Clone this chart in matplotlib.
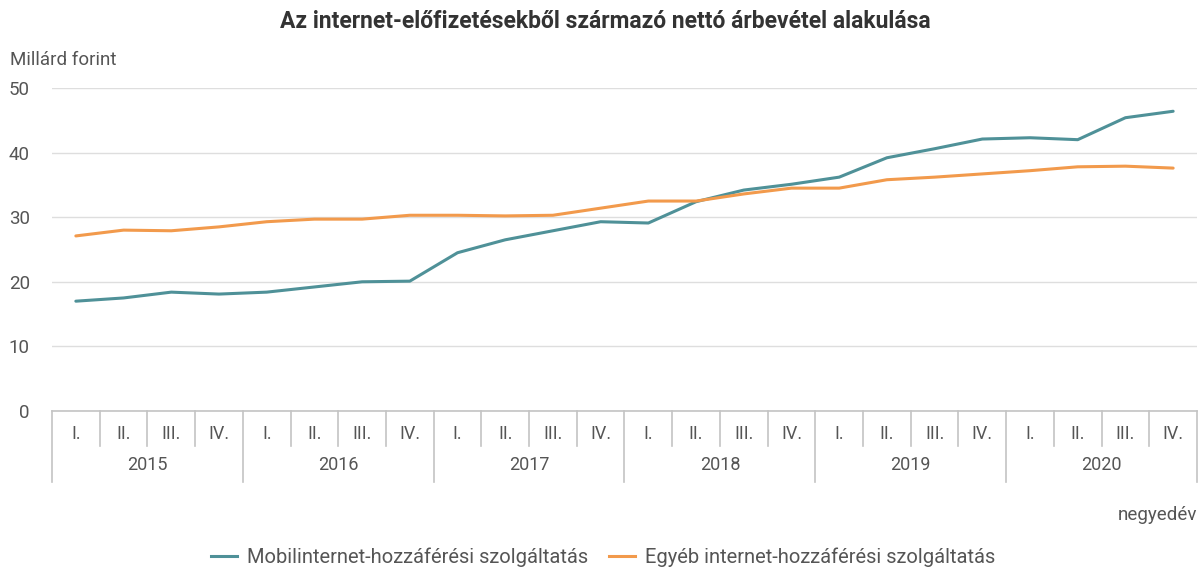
import numpy as np
import matplotlib.pyplot as plt
from matplotlib.lines import Line2D

plt.rcParams['font.family'] = ['Roboto', 'DejaVu Sans']

years = ['2015', '2016', '2017', '2018', '2019', '2020']
quarters = ['I.', 'II.', 'III.', 'IV.']

mobil = [17.0, 17.5, 18.4, 18.1,
         18.4, 19.2, 20.0, 20.1,
         24.5, 26.5, 27.9, 29.3,
         29.1, 32.4, 34.2, 35.1,
         36.2, 39.2, 40.6, 42.1,
         42.3, 42.0, 45.4, 46.4]
egyeb = [27.1, 28.0, 27.9, 28.5,
         29.3, 29.7, 29.7, 30.3,
         30.3, 30.2, 30.3, 31.4,
         32.5, 32.5, 33.6, 34.5,
         34.5, 35.8, 36.2, 36.7,
         37.2, 37.8, 37.9, 37.6]

teal = '#4f9198'
orange = '#f29a4c'
txt = '#555555'
sep = '#c4c4c4'


def main():
    fig = plt.figure(figsize=(12.01, 5.69), dpi=100)
    ax = fig.add_axes([52 / 1201, 1 - 411 / 569, 1145 / 1201, 323 / 569])

    x = np.arange(len(mobil))
    ax.plot(x, mobil, color=teal, lw=2.2, solid_capstyle='round', zorder=3)
    ax.plot(x, egyeb, color=orange, lw=2.2, solid_capstyle='round', zorder=3)

    ax.set_xlim(-0.5, len(mobil) - 0.5)
    ax.set_ylim(0, 50)
    ax.set_yticks(range(0, 51, 10))
    ax.yaxis.grid(True, color='#dedede', lw=1)
    ax.set_axisbelow(True)
    for s in ax.spines.values():
        s.set_visible(False)
    ax.tick_params(axis='y', length=0, labelsize=13.5, labelcolor=txt, pad=16)
    ax.set_xticks([])

    # category table under the plot
    tr = ax.get_xaxis_transform()
    h = 323
    ax.plot([-0.5, len(mobil) - 0.5], [0, 0], color=sep, lw=1.2, transform=tr, clip_on=False)
    n = 0
    for y in years:
        for q in quarters:
            ax.text(n, -23 / h, q, transform=tr, ha='center', va='center', fontsize=13, color=txt)
            n += 1
        ax.text(n - 2.5, -54 / h, y, transform=tr, ha='center', va='center', fontsize=13, color=txt)
    for i in range(len(mobil) + 1):
        bottom = -71 / h if i % 4 == 0 else -35 / h
        ax.plot([i - 0.5, i - 0.5], [0, bottom], color=sep, lw=1.2, transform=tr, clip_on=False)

    fig.text(605 / 1201, 1 - 22 / 569, 'Az internet-előfizetésekből származó nettó árbevétel alakulása',
             ha='center', va='center', fontsize=16.5, fontweight='bold', color='#333333')
    fig.text(10 / 1201, 1 - 60 / 569, 'Millárd forint', ha='left', va='center', fontsize=13.5, color=txt)
    fig.text(1197 / 1201, 1 - 515 / 569, 'negyedév', ha='right', va='center', fontsize=13.5, color=txt)

    handles = [Line2D([], [], color=teal, lw=2.2), Line2D([], [], color=orange, lw=2.2)]
    fig.legend(handles, ['Mobilinternet-hozzáférési szolgáltatás', 'Egyéb internet-hozzáférési szolgáltatás'],
               loc='center', bbox_to_anchor=(603 / 1201, 1 - 557 / 569), ncol=2, frameon=False,
               fontsize=14.5, handlelength=1.3, handletextpad=0.5, columnspacing=1.0,
               labelcolor=txt)

    fig.savefig('out.png', dpi=100)


if __name__ == "__main__":
    main()
